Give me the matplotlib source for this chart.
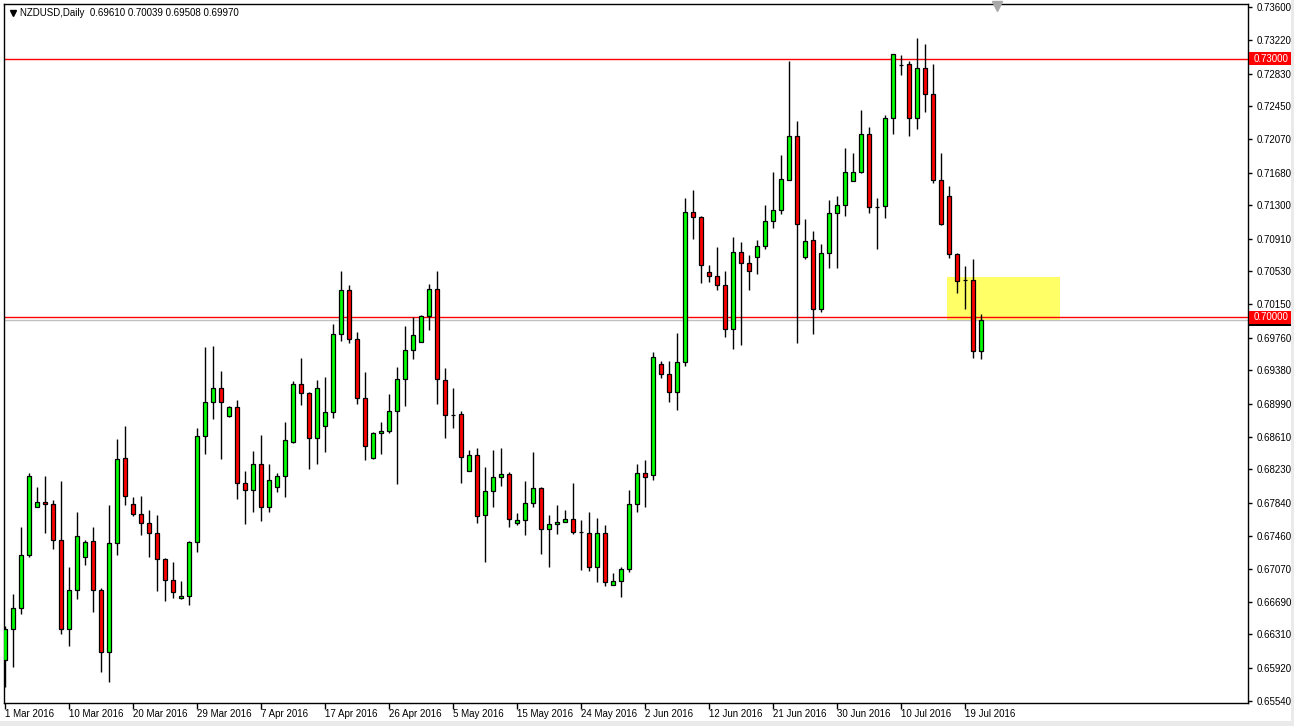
import matplotlib
matplotlib.use("Agg")
import matplotlib.pyplot as plt
import matplotlib.transforms as mtransforms
from matplotlib.patches import Rectangle
from matplotlib.lines import Line2D
import numpy as np

plt.rcParams['font.family'] = ['Liberation Sans', 'DejaVu Sans']

# ---- data (NZDUSD daily, 1 Mar 2016 .. 21 Jul 2016, broker with Sunday bars) ----
opens = [
    0.66013, 0.66373, 0.66618, 0.67234, 0.67792, 0.67850, 0.67827, 0.67408, 0.66373, 0.66827,
    0.67211, 0.67396, 0.66827, 0.66106, 0.67373, 0.68361, 0.67827, 0.67711, 0.67606, 0.67489,
    0.67187, 0.66943, 0.66734, 0.66757, 0.67385, 0.68617, 0.69012, 0.69175, 0.68849, 0.68954,
    0.68070, 0.67989, 0.68292, 0.67792, 0.68024, 0.68152, 0.68547, 0.69222, 0.69117, 0.68594,
    0.68733, 0.68896, 0.69803, 0.70314, 0.69744, 0.69059, 0.68361, 0.68652, 0.68675, 0.68907,
    0.69279, 0.69617, 0.69710, 0.70012, 0.70325, 0.69268, 0.68861, 0.68872, 0.68210, 0.68396,
    0.67699, 0.67977, 0.68141, 0.68176, 0.67606, 0.67641, 0.67838, 0.68012, 0.67536, 0.67595,
    0.67618, 0.67652, 0.67501, 0.67489, 0.67095, 0.67489, 0.66885, 0.66931, 0.67071, 0.67827,
    0.68187, 0.68164, 0.69454, 0.69338, 0.69129, 0.69477, 0.71221, 0.71163, 0.70524, 0.70477,
    0.70372, 0.69860, 0.70756, 0.70628, 0.70698, 0.70825, 0.71116, 0.71244, 0.71593, 0.72104,
    0.70698, 0.70895, 0.70093, 0.70744, 0.71209, 0.71302, 0.71581, 0.71686, 0.72128, 0.71279,
    0.71290, 0.72313, 0.72930, 0.72942, 0.72313, 0.72895, 0.72593, 0.71593, 0.71406, 0.70733,
    0.70430, 0.70430, 0.69610,
]
highs = [
    0.66408, 0.66781, 0.67560, 0.68187, 0.68024, 0.68152, 0.67873, 0.68093, 0.67095, 0.67734,
    0.67408, 0.67560, 0.66850, 0.67815, 0.68582, 0.68733, 0.67908, 0.67919, 0.67757, 0.67699,
    0.67195, 0.67153, 0.66931, 0.67396, 0.68710, 0.69652, 0.69663, 0.69372, 0.68965, 0.69035,
    0.68210, 0.68442, 0.68629, 0.68292, 0.68187, 0.68780, 0.69256, 0.69524, 0.69125, 0.69268,
    0.69303, 0.69919, 0.70535, 0.70372, 0.69826, 0.69361, 0.68664, 0.68780, 0.69106, 0.69419,
    0.69895, 0.70001, 0.70024, 0.70384, 0.70535, 0.69407, 0.69175, 0.68907, 0.68454, 0.68477,
    0.68257, 0.68454, 0.68477, 0.68199, 0.67722, 0.68093, 0.68431, 0.68020, 0.67699, 0.67815,
    0.67757, 0.68070, 0.67641, 0.67734, 0.67664, 0.67583, 0.67024, 0.67095, 0.67989, 0.68292,
    0.68338, 0.69594, 0.69488, 0.69488, 0.69814, 0.71383, 0.71476, 0.71170, 0.70605, 0.70814,
    0.70535, 0.70930, 0.70872, 0.70721, 0.70895, 0.71302, 0.71686, 0.71883, 0.72976, 0.72278,
    0.71139, 0.70999, 0.70849, 0.71360, 0.71406, 0.71965, 0.71906, 0.72406, 0.72209, 0.71383,
    0.72348, 0.73062, 0.73046, 0.72976, 0.73243, 0.73174, 0.72942, 0.71906, 0.71523, 0.70740,
    0.70593, 0.70674, 0.70039,
]
lows = [
    0.65700, 0.65932, 0.66548, 0.67211, 0.67792, 0.67489, 0.67303, 0.66316, 0.66176, 0.66722,
    0.67118, 0.66571, 0.65874, 0.65758, 0.67234, 0.67815, 0.67687, 0.67466, 0.67211, 0.66815,
    0.66699, 0.66734, 0.66722, 0.66653, 0.67269, 0.68408, 0.68814, 0.68349, 0.68838, 0.67884,
    0.67595, 0.67734, 0.67629, 0.67734, 0.67966, 0.67908, 0.68535, 0.68977, 0.68233, 0.68292,
    0.68431, 0.68826, 0.69721, 0.69698, 0.68989, 0.68338, 0.68355, 0.68408, 0.68652, 0.68059,
    0.68965, 0.69512, 0.69705, 0.69849, 0.68989, 0.68594, 0.68710, 0.68070, 0.68205, 0.67606,
    0.67153, 0.67792, 0.68035, 0.67560, 0.67583, 0.67466, 0.67792, 0.67246, 0.67095, 0.67478,
    0.67612, 0.67478, 0.67059, 0.67047, 0.66920, 0.66873, 0.66880, 0.66746, 0.67036, 0.67734,
    0.67792, 0.68105, 0.69291, 0.69012, 0.68919, 0.69430, 0.70906, 0.70395, 0.70407, 0.70314,
    0.69768, 0.69628, 0.69675, 0.70314, 0.70501, 0.70790, 0.71035, 0.71198, 0.71588, 0.69698,
    0.70674, 0.69803, 0.70059, 0.70570, 0.70570, 0.71174, 0.71576, 0.71680, 0.71209, 0.70790,
    0.71151, 0.72128, 0.72813, 0.72104, 0.72185, 0.72383, 0.71558, 0.71075, 0.70686, 0.70279,
    0.70093, 0.69524, 0.69508,
]
closes = [
    0.66373, 0.66618, 0.67234, 0.68152, 0.67850, 0.67827, 0.67408, 0.66373, 0.66827, 0.67454,
    0.67385, 0.66827, 0.66106, 0.67373, 0.68349, 0.67919, 0.67711, 0.67606, 0.67489, 0.67187,
    0.66943, 0.66804, 0.66757, 0.67385, 0.68617, 0.69012, 0.69175, 0.69012, 0.68954, 0.68070,
    0.67989, 0.68292, 0.67792, 0.68105, 0.68152, 0.68570, 0.69222, 0.69117, 0.68594, 0.69175,
    0.68896, 0.69803, 0.70314, 0.69744, 0.69059, 0.68500, 0.68652, 0.68675, 0.68907, 0.69279,
    0.69617, 0.69791, 0.70012, 0.70325, 0.69279, 0.68861, 0.68861, 0.68373, 0.68396, 0.67687,
    0.67977, 0.68141, 0.68176, 0.67652, 0.67641, 0.67838, 0.68012, 0.67536, 0.67595, 0.67618,
    0.67652, 0.67501, 0.67501, 0.67095, 0.67489, 0.66920, 0.66931, 0.67071, 0.67827, 0.68187,
    0.68141, 0.69536, 0.69338, 0.69129, 0.69477, 0.71221, 0.71163, 0.70605, 0.70477, 0.70372,
    0.69860, 0.70756, 0.70628, 0.70535, 0.70825, 0.71116, 0.71244, 0.71604, 0.72104, 0.71082,
    0.70883, 0.70093, 0.70744, 0.71209, 0.71302, 0.71686, 0.71686, 0.72128, 0.71279, 0.71279,
    0.72313, 0.73058, 0.72930, 0.72313, 0.72895, 0.72593, 0.71593, 0.71082, 0.70733, 0.70418,
    0.70430, 0.69610, 0.69970,
]

price_ticks = [0.73600, 0.73220, 0.72830, 0.72450, 0.72070, 0.71680, 0.71300, 0.70910,
               0.70530, 0.70150, 0.69760, 0.69380, 0.68990, 0.68610, 0.68230, 0.67840,
               0.67460, 0.67070, 0.66690, 0.66310, 0.65920, 0.65540]
date_labels = ['1 Mar 2016', '10 Mar 2016', '20 Mar 2016', '29 Mar 2016', '7 Apr 2016',
               '17 Apr 2016', '26 Apr 2016', '5 May 2016', '15 May 2016', '24 May 2016',
               '2 Jun 2016', '12 Jun 2016', '21 Jun 2016', '30 Jun 2016', '10 Jul 2016',
               '19 Jul 2016']
label_step = 8  # bars between date labels
level_lines = [0.73000, 0.70000]
bid_price = 0.69970
zone_bars = (117.75, 131.9)
zone_prices = (0.69970, 0.70470)
header = 'NZDUSD,Daily  0.69610 0.70039 0.69508 0.69970'

# ---- figure ----
W, H = 1294, 726
fig = plt.figure(figsize=(W / 100, H / 100), dpi=100)
fig.patch.set_facecolor('white')
ax_l, ax_r, ax_t, ax_b = 4, 1248, 4, 703
ax = fig.add_axes([ax_l / W, 1 - ax_b / H, (ax_r - ax_l) / W, (ax_b - ax_t) / H])
ax.set_facecolor('white')

o = np.array(opens); h = np.array(highs); l = np.array(lows); c = np.array(closes)
x = np.arange(len(o))
up = c >= o

y_lo, y_hi = 0.65513, 0.73639
px_price = (y_hi - y_lo) / (ax_b - ax_t)   # price per pixel
px_ax = 1.0 / (ax_r - ax_l)                # axes fraction per pixel

# yellow zone
ax.add_patch(Rectangle((zone_bars[0], zone_prices[0]), zone_bars[1] - zone_bars[0],
                       zone_prices[1] - zone_prices[0], facecolor='#FFFF66',
                       edgecolor='none', zorder=0.5))

# horizontal lines
ax.axhline(bid_price, color='#C0C0C0', lw=1, zorder=1)
for lv in level_lines:
    ax.axhline(lv, color='#FF0000', lw=1, zorder=1.1)

# candles
ax.vlines(x, l, h, color='black', lw=1, zorder=2)
ax.bar(x, np.abs(c - o), bottom=np.minimum(o, c), width=0.62,
       color=np.where(up, '#00FF00', '#FF0000'), edgecolor='black',
       linewidth=0.9, zorder=3)

ax.set_xlim((ax_l - 5) / 8.0, (ax_r - 5) / 8.0)
ax.set_ylim(y_lo, y_hi)

# axes styling
for s in ax.spines.values():
    s.set_color('black')
    s.set_linewidth(1)

ax.yaxis.tick_right()
ax.set_yticks(price_ticks)
ax.set_yticklabels(['%.5f' % v for v in price_ticks])
ax.tick_params(axis='y', direction='out', length=3, width=1, pad=3,
               labelsize=7, colors='black')

tick_pos = [i * label_step for i in range(len(date_labels))]
ax.set_xticks(tick_pos)
ax.set_xticklabels(date_labels, ha='left')
ax.tick_params(axis='x', direction='out', length=4, width=1, pad=0.5,
               labelsize=7, colors='black')

# price labels on the axis: bid box (mostly hidden) and level boxes
trans = mtransforms.blended_transform_factory(ax.transAxes, ax.transData)
box_x0 = 1.0 + 1 * px_ax
box_w = 43 * px_ax
box_h = 13 * px_price
ax.add_patch(Rectangle((box_x0, bid_price - box_h / 2), box_w, box_h, transform=trans,
                       facecolor='black', edgecolor='none', zorder=5, clip_on=False))
for lv in level_lines:
    ax.add_patch(Rectangle((box_x0, lv - box_h / 2), box_w, box_h, transform=trans,
                           facecolor='#FF0000', edgecolor='none', zorder=6, clip_on=False))
    ax.text(1.0 + 6 * px_ax, lv, '%.5f' % lv, transform=trans,
            ha='left', va='center', color='white', fontsize=7, zorder=7, clip_on=False)

# header
fig.text(20 / W, 1 - 13 / H, header, fontsize=7, va='center', ha='left', color='black')
fig.add_artist(Line2D([13 / W], [1 - 13 / H], marker='v', color='black',
                      markersize=4, linestyle='none', transform=fig.transFigure))
# chart-shift marker
fig.add_artist(Line2D([997 / W], [1 - 6 / H], marker='v', color='#A8A8A8',
                      markersize=7, linestyle='none', transform=fig.transFigure))

# light grey window frame
fig.add_artist(Rectangle((0, 0), 1, 5 / H, transform=fig.transFigure,
                         facecolor='#EAEAEA', edgecolor='none'))
fig.add_artist(Rectangle((1 - 3 / W, 0), 3 / W, 1, transform=fig.transFigure,
                         facecolor='#EAEAEA', edgecolor='none'))

fig.savefig('out.png', dpi=100)
